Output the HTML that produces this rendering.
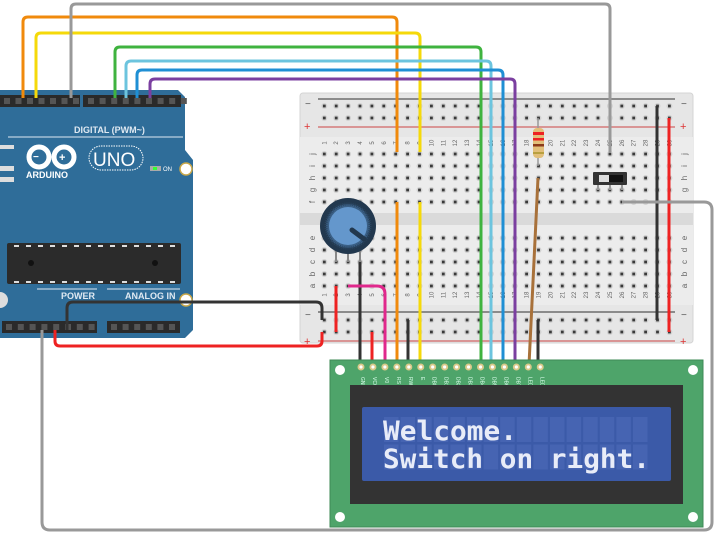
<!DOCTYPE html>
<html><head><meta charset="utf-8"><style>
html,body{margin:0;padding:0;background:#fff;width:719px;height:550px;overflow:hidden}
svg{display:block}
</style></head><body>
<svg id="s" width="719" height="550" viewBox="0 0 719 550" xmlns="http://www.w3.org/2000/svg" font-family="Liberation Sans, sans-serif">
<!-- breadboard -->
<rect x="300" y="93" width="393" height="250" rx="3" fill="#e6e6e6" stroke="#d4d4d4"/>
<rect x="300" y="137" width="393" height="168" fill="#ececec"/>
<rect x="300" y="213" width="393" height="12" fill="#dadada"/>
<line x1="318" y1="99" x2="675" y2="99" stroke="#555" stroke-width="1.2"/>
<line x1="318" y1="127" x2="675" y2="127" stroke="#c44" stroke-width="1"/>
<line x1="318" y1="312" x2="675" y2="312" stroke="#555" stroke-width="1.2"/>
<line x1="318" y1="341" x2="675" y2="341" stroke="#c44" stroke-width="1"/>
<g font-size="10" fill="#555"><text x="305" y="107">−</text><text x="681" y="107">−</text><text x="305" y="318">−</text><text x="681" y="318">−</text></g>
<g font-size="11" fill="#d33"><text x="304" y="130">+</text><text x="680" y="130">+</text><text x="304" y="345">+</text><text x="680" y="345">+</text></g>
<g id="holes"></g>
<!-- arduino -->
<polygon points="0,90 178,90 185,97 185,150 193,160 193,330 185,338 0,338" fill="#2f6d99"/>
<rect x="0" y="95" width="80" height="12" fill="#2a2a2a"/>
<rect x="83" y="95" width="98" height="12" fill="#2a2a2a"/>
<g id="pins"></g>
<text x="74" y="133" font-size="9" font-weight="bold" fill="#dfe9f2">DIGITAL (PWM~)</text>
<line x1="8" y1="137" x2="183" y2="137" stroke="#dfe9f2" stroke-width="1"/>
<g fill="none" stroke="#fff" stroke-width="5"><circle cx="39" cy="157" r="10"/><circle cx="64" cy="157" r="10"/></g>
<text x="33" y="160" font-size="10" fill="#fff" font-weight="bold">−</text><text x="59" y="161" font-size="11" fill="#fff" font-weight="bold">+</text>
<text x="26" y="178" font-size="9" font-weight="bold" fill="#fff">ARDUINO</text>
<rect x="89" y="146" width="54" height="24" rx="12" fill="none" stroke="#fff" stroke-dasharray="1.5 1"/>
<text x="93" y="166" font-size="19" fill="#fff">UNO</text>
<rect x="150" y="166" width="11" height="5" fill="#aaa"/><rect x="153" y="167" width="4" height="3" fill="#3f3"/>
<text x="163" y="171" font-size="6" fill="#fff">ON</text>
<rect x="0" y="145" width="14" height="4" fill="#ddd"/><rect x="0" y="166" width="14" height="5" fill="#ddd"/><rect x="0" y="177" width="14" height="5" fill="#ddd"/>
<circle cx="186" cy="169" r="6" fill="#fff" stroke="#c9a84a" stroke-width="1.5"/>
<circle cx="186" cy="300" r="6" fill="#fff" stroke="#c9a84a" stroke-width="1.5"/>
<circle cx="0" cy="300" r="8" fill="#ddd"/>
<rect x="7" y="243" width="174" height="41" rx="2" fill="#2b2b2b"/>
<g fill="#fff" id="chipd"></g>
<circle cx="31" cy="263" r="3" fill="#111"/><circle cx="155" cy="263" r="3" fill="#111"/>
<line x1="37" y1="289" x2="97" y2="289" stroke="#dfe9f2"/><line x1="107" y1="289" x2="180" y2="289" stroke="#dfe9f2"/>
<text x="61" y="299" font-size="9" font-weight="bold" fill="#dfe9f2">POWER</text>
<text x="125" y="299" font-size="9" font-weight="bold" fill="#dfe9f2">ANALOG IN</text>
<rect x="2" y="321" width="95" height="12" fill="#2a2a2a"/>
<rect x="107" y="321" width="73" height="12" fill="#2a2a2a"/>
<g id="bpins"></g>
<!-- wires top -->
<g fill="none" stroke-width="3" stroke-linejoin="round">
<path d="M23,98 V22 Q23,17 28,17 H392 Q397,17 397,22 V152" stroke="#f08a0c"/>
<path d="M36,98 V38 Q36,33 41,33 H415 Q420,33 420,38 V152" stroke="#f5d90a"/>
<path d="M71,98 V9 Q71,4 76,4 H605 Q610,4 610,9 V152" stroke="#999"/>
<path d="M115,98 V52 Q115,47 120,47 H476 Q481,47 481,52 V365" stroke="#3fb33f"/>
<path d="M126,98 V66 Q126,61 131,61 H486 Q491,61 491,66 V365" stroke="#6cc4de"/>
<path d="M137,98 V75 Q137,70 142,70 H498 Q503,70 503,75 V365" stroke="#1f8fd4"/>
<path d="M150,98 V84 Q150,79 155,79 H510 Q515,79 515,84 V365" stroke="#7b3fa0"/>
<path d="M397,202 V365" stroke="#f08a0c"/>
<path d="M420,202 V365" stroke="#f5d90a"/>
<path d="M657,106 V320" stroke="#333"/>
<path d="M669,118 V332" stroke="#e22"/>
<path d="M622,202 H704 Q712,202 712,210 V522 Q712,530 704,530 H50 Q42,530 42,522 V330" stroke="#999"/>
<path d="M67,330 V308 Q67,302 73,302 H316 Q322,302 322,308 V320" stroke="#333"/>
<path d="M55,330 V341 Q55,346 60,346 H317 Q322,346 322,341 V332" stroke="#e22"/>
<path d="M336,286 V332" stroke="#e22"/>
<path d="M372,332 V365" stroke="#e22"/>
<path d="M360,262 V365" stroke="#333"/>
<path d="M408,320 V365" stroke="#333"/>
<path d="M538,320 V365" stroke="#333"/>
<path d="M348,286 H377 Q385,286 385,294 V365" stroke="#e0288c"/>
<path d="M538,178 L529,365" stroke="#a8713a"/>
</g>
<!-- resistor -->
<line x1="538" y1="118" x2="538" y2="166" stroke="#999" stroke-width="1.5"/>
<rect x="533" y="128" width="11" height="30" rx="4" fill="#e2bf7a"/>
<rect x="533" y="132" width="11" height="3" fill="#e22"/><rect x="533" y="138" width="11" height="2.5" fill="#e22"/><rect x="533" y="144" width="11" height="2.5" fill="#8b3a1a"/><rect x="533" y="152" width="11" height="2" fill="#b8a040"/>
<!-- switch -->
<rect x="593" y="172" width="34" height="13" rx="1" fill="#333"/>
<rect x="599" y="175" width="10" height="7" fill="#ddd"/><rect x="609" y="175" width="14" height="7" fill="#111"/>
<g stroke="#999" stroke-width="2"><line x1="598" y1="185" x2="598" y2="190"/><line x1="610" y1="185" x2="610" y2="190"/><line x1="622" y1="185" x2="622" y2="190"/></g>
<!-- pot -->
<g stroke="#888" stroke-width="2"><line x1="336" y1="245" x2="336" y2="262"/><line x1="348" y1="245" x2="348" y2="262"/><line x1="360" y1="245" x2="360" y2="262"/></g>
<circle cx="348" cy="226" r="28" fill="#22384e"/>
<circle cx="348" cy="226" r="22" fill="#3a5f85" stroke="#2a4560" stroke-dasharray="1 1" stroke-width="3"/>
<circle cx="348" cy="226" r="19" fill="#6497cc"/>
<line x1="352" y1="230" x2="364" y2="239" stroke="#22384e" stroke-width="5" stroke-linecap="round"/>
<!-- LCD -->
<rect x="330" y="360" width="373" height="167" fill="#4ea46a" stroke="#3d8a55"/>
<g fill="#fff"><circle cx="340" cy="370" r="5"/><circle cx="693" cy="370" r="5"/><circle cx="340" cy="517" r="5"/><circle cx="693" cy="517" r="5"/></g>
<g id="lpins"></g>
<rect x="350" y="385" width="333" height="119" fill="#333"/>
<rect x="362" y="407" width="309" height="74" rx="2" fill="#3b5aa8"/>
<g id="cells"></g>
<text x="383" y="440" font-family="DejaVu Sans Mono, monospace" font-size="27" font-weight="bold" fill="#e8ecf8" textLength="134" lengthAdjust="spacingAndGlyphs">Welcome.</text>
<text x="383" y="468" font-family="DejaVu Sans Mono, monospace" font-size="27" font-weight="bold" fill="#e8ecf8" textLength="267" lengthAdjust="spacingAndGlyphs">Switch on right.</text>
</svg>
<script>
var NS="http://www.w3.org/2000/svg";
function el(p,t,a,txt){var e=document.createElementNS(NS,t);for(var k in a)e.setAttribute(k,a[k]);if(txt)e.textContent=txt;document.getElementById(p).appendChild(e);}
var rows=[106,118,154,166,178,190,202,238,250,262,274,286,320,332];
for(var c=1;c<=30;c++){var x=324.3+(c-1)*11.9;
 rows.forEach(function(y){el("holes","circle",{cx:x,cy:y,r:3,fill:"#d2d2d2"});el("holes","rect",{x:x-1.4,y:y-1.4,width:2.8,height:2.8,fill:"#3a3a3a"});});
 el("holes","text",{x:x,y:145,"font-size":"6",fill:"#666","text-anchor":"middle",transform:"rotate(-90 "+x+" 143)"},""+c);
 el("holes","text",{x:x,y:297,"font-size":"6",fill:"#666","text-anchor":"middle",transform:"rotate(-90 "+x+" 295)"},""+c);}
"jihgf".split("").forEach(function(l,i){var y=rows[2+i];el("holes","text",{x:312,y:y+3,"font-size":"8",fill:"#666","text-anchor":"middle",transform:"rotate(-90 312 "+y+")"},l);el("holes","text",{x:684,y:y+3,"font-size":"8",fill:"#666","text-anchor":"middle",transform:"rotate(-90 684 "+y+")"},l);});
"edcba".split("").forEach(function(l,i){var y=rows[7+i];el("holes","text",{x:312,y:y+3,"font-size":"8",fill:"#666","text-anchor":"middle",transform:"rotate(-90 312 "+y+")"},l);el("holes","text",{x:684,y:y+3,"font-size":"8",fill:"#666","text-anchor":"middle",transform:"rotate(-90 684 "+y+")"},l);});
for(var x=2;x<78;x+=11.5)el("pins","rect",{x:x+2,y:98,width:6,height:6,fill:"#555"});
for(var x=86;x<180;x+=11.6)el("pins","rect",{x:x+2,y:98,width:6,height:6,fill:"#555"});
for(var x=4;x<96;x+=11.8)el("bpins","rect",{x:x+2,y:324,width:6,height:6,fill:"#555"});
for(var x=109;x<178;x+=11.6)el("bpins","rect",{x:x+2,y:324,width:6,height:6,fill:"#555"});
for(var x=14;x<178;x+=12)el("chipd","rect",{x:x,y:245,width:5,height:2,fill:"#ddd"});
for(var x=14;x<178;x+=12)el("chipd","rect",{x:x,y:281,width:5,height:2,fill:"#ddd"});
var names=["GND","VCC","V0","RS","RW","E","DB0","DB1","DB2","DB3","DB4","DB5","DB6","DB7","LED","LED"];
names.forEach(function(n,i){var x=361+i*11.95;el("lpins","circle",{cx:x,cy:367,r:3.5,fill:"#d9c98a"});el("lpins","circle",{cx:x,cy:367,r:1.6,fill:"#fff"});
 el("lpins","text",{x:x+2,y:375,"font-size":"5",fill:"#dfe","transform":"rotate(90 "+x+" 375)"},n);});
for(var r=0;r<2;r++)for(var c=0;c<16;c++)el("cells","rect",{x:384+c*16.6,y:417+r*27.5,width:14.5,height:25,fill:"#4664b2"});
</script>
</body></html>
